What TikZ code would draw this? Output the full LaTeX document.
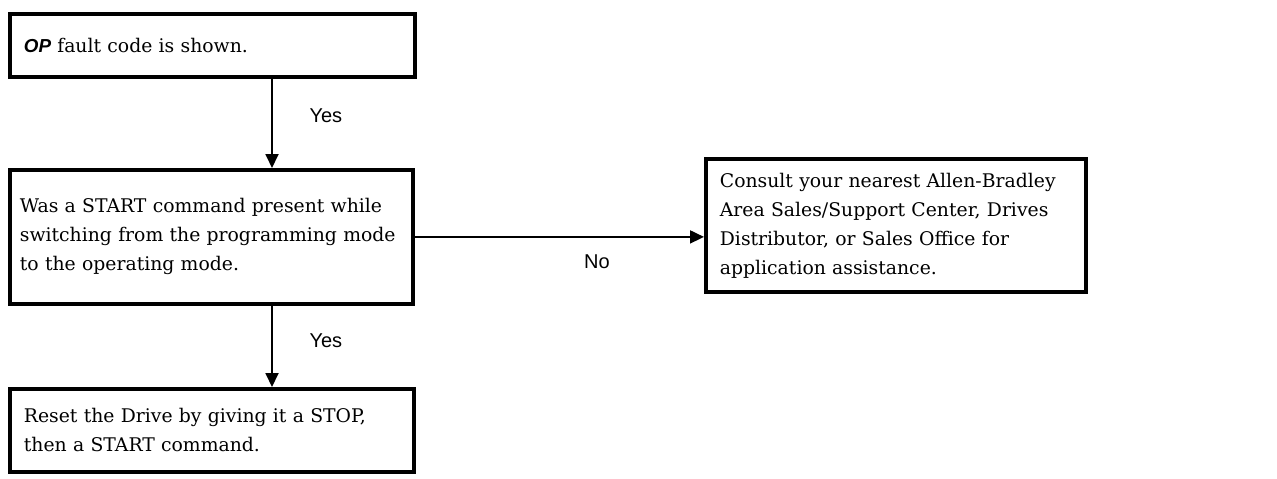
\documentclass[tikz,border=0pt]{standalone}
\usepackage{fontspec}
\setmainfont{DejaVu Serif}
\newfontfamily\labelfont{Liberation Sans}
\usetikzlibrary{arrows.meta, positioning, calc}

\begin{document}
\begin{tikzpicture}[
    box/.style={rectangle, draw, line width=1.9pt, anchor=north west, align=left, inner xsep=7pt, font=\fontsize{9.4}{14.5}\selectfont},
    lbl/.style={font=\labelfont\fontsize{10}{12}\selectfont},
    arr/.style={-{Triangle[length=7pt,width=6.5pt]}, line width=0.9pt}
]
\useasboundingbox (0,0) rectangle (638.5pt,-239pt);

% Fault code box
\node[box, minimum width=202.5pt, minimum height=31.5pt, text width=188.5pt] (fault) at (4pt,-6pt) {{\labelfont\bfseries\itshape OP} fault code is shown.};

% Question box
\node[box, inner xsep=5pt, minimum width=201.5pt, minimum height=67pt, text width=191.5pt] (start) at (4pt,-84pt) {Was a START command present while\\ switching from the programming mode\\ to the operating mode.};

% Reset box
\node[box, minimum width=202pt, minimum height=41.5pt, text width=188pt] (reset) at (4pt,-193.5pt) {Reset the Drive by giving it a STOP,\\ then a START command.};

% Consult box
\node[box, minimum width=190pt, minimum height=66.5pt, text width=176pt] (consult) at (352pt,-78.5pt) {Consult your nearest Allen-Bradley\\ Area Sales/Support Center, Drives\\ Distributor, or Sales Office for\\ application assistance.};

% Connectors
\draw[arr] ([xshift=132pt]fault.south west) -- node[lbl, right=15pt, yshift=4pt] {Yes} ([xshift=132pt]start.north west);
\draw[arr] ([xshift=132pt]start.south west) -- node[lbl, right=15pt, yshift=3pt] {Yes} ([xshift=132pt]reset.north west);
\draw[arr] (start.east) -- node[lbl, below=5pt, pos=0.63] {No} (start.east -| consult.west);
\end{tikzpicture}
\end{document}
